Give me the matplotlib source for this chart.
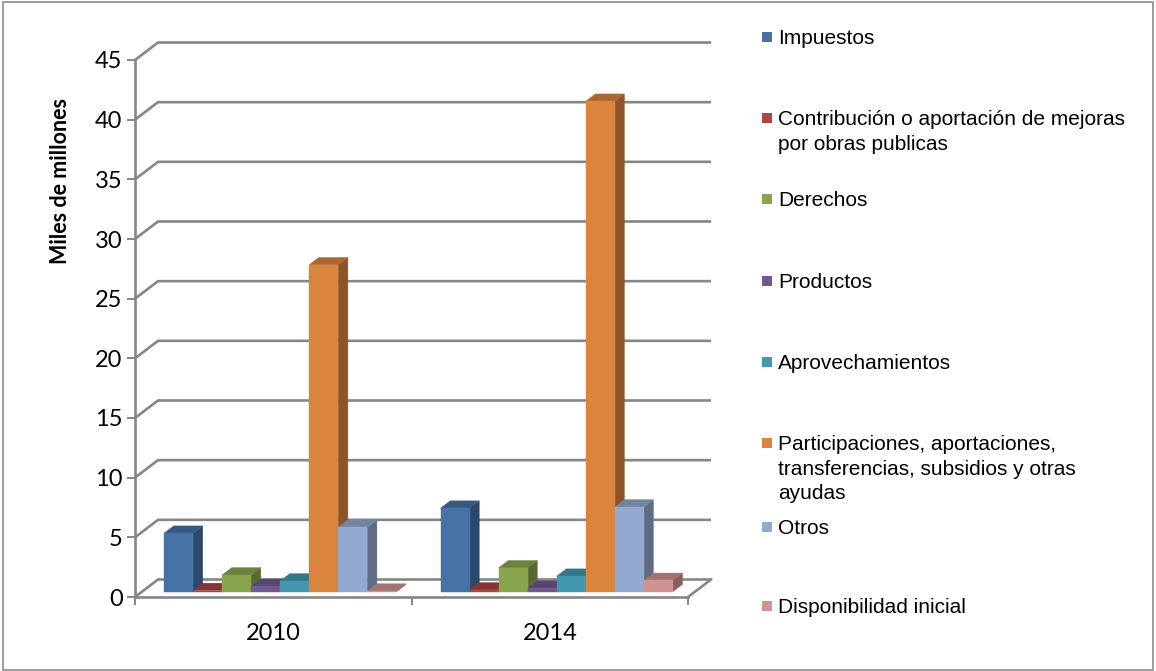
import matplotlib
matplotlib.use("Agg")
import matplotlib.pyplot as plt
from matplotlib.patches import Polygon, Rectangle
import numpy as np
from matplotlib.colors import to_rgb

# ---------------- data ----------------
years = ["2010", "2014"]
series = ["Impuestos",
          "Contribución o aportación de mejoras\npor obras publicas",
          "Derechos",
          "Productos",
          "Aprovechamientos",
          "Participaciones, aportaciones,\ntransferencias, subsidios y otras\nayudas",
          "Otros",
          "Disponibilidad inicial"]
impuestos = [4.9, 7.0]
contribucion = [0.1, 0.15]
derechos = [1.4, 2.0]
productos = [0.45, 0.3]
aprovechamientos = [0.9, 1.3]
participaciones = [27.4, 41.1]
otros = [5.4, 7.1]
disponibilidad = [0.05, 0.95]
values = [impuestos, contribucion, derechos, productos, aprovechamientos,
          participaciones, otros, disponibilidad]
yticks = list(range(0, 50, 5))
ylabel = "Miles de millones"

colors = ["#4572A7", "#AA4643", "#89A54E", "#71588F", "#4198AF",
          "#DB843D", "#93A9CF", "#D19392"]

# ---------------- layout ----------------
W, H = 1156, 671
fig = plt.figure(figsize=(W / 100, H / 100), dpi=100)
fig.patch.set_facecolor("white")

PXX = 276.5           # pixels per category unit
PXY = (597 - 60) / 45  # pixels per value unit
ax_l, ax_r, ax_t, ax_b = 135, 735, 30, 597
ax = fig.add_axes([ax_l / W, (H - ax_b) / H, (ax_r - ax_l) / W, (ax_b - ax_t) / H])
ax.set_xlim(-0.5, -0.5 + (ax_r - ax_l) / PXX)
ax.set_ylim(0, (ax_b - ax_t) / PXY)
ax.patch.set_alpha(0)

DX = 23 / PXX
DY = 17.5 / PXY
grid_c = "#868686"
glw = 1.9

x0, x1 = -0.5, len(years) - 0.5
# gridlines (back wall) with diagonal connectors
for v in yticks:
    ax.plot([x0, x0 + DX, x1 + DX], [v, v + DY, v + DY], color=grid_c, lw=glw,
            zorder=1, solid_capstyle="butt", clip_on=False)
# floor right diagonal
ax.plot([x1, x1 + DX], [0, DY], color=grid_c, lw=glw, zorder=1, clip_on=False)

# spines / ticks
for s in ["top", "right"]:
    ax.spines[s].set_visible(False)
ax.spines["left"].set_bounds(0, 45)
ax.spines["bottom"].set_bounds(x0, x1)
for s in ["left", "bottom"]:
    ax.spines[s].set_color(grid_c)
    ax.spines[s].set_linewidth(glw)
    ax.spines[s].set_zorder(2)
ax.set_yticks(yticks)
ax.set_yticklabels([str(t) for t in yticks])
ax.tick_params(axis="y", direction="out", length=5.5, width=1.4, color=grid_c,
               labelsize=17, pad=3.5)
ax.set_xticks(np.arange(x0, x1 + 0.01, 1.0))
ax.set_xticklabels([])
ax.set_xticks(np.arange(len(years)), minor=True)
ax.set_xticklabels(years, minor=True)
ax.tick_params(axis="x", which="major", direction="out", length=6, width=1.4, color=grid_c)
ax.tick_params(axis="x", which="minor", length=0, labelsize=17, pad=19)
for lab in ax.get_xticklabels(minor=True) + ax.get_yticklabels():
    lab.set_fontfamily("Lato")

# bars
nser = len(series)
w = 0.105
f0, f1 = 0.30, 0.72
def shade(c, f):
    r, g, b = to_rgb(c)
    return (r * f, g * f, b * f)

for j in range(len(years)):
    for i in range(nser):
        v = values[i][j]
        xl = j - nser * w / 2 + i * w + f0 * DX
        yb = f0 * DY
        ddx = (f1 - f0) * DX
        ddy = (f1 - f0) * DY
        c = colors[i]
        front = Polygon([(xl, yb), (xl + w, yb), (xl + w, yb + v), (xl, yb + v)],
                        closed=True, fc=c, ec=c, lw=0.3, zorder=5 + i * 0.01, clip_on=False)
        top = Polygon([(xl, yb + v), (xl + w, yb + v), (xl + w + ddx, yb + v + ddy),
                       (xl + ddx, yb + v + ddy)], closed=True, fc=shade(c, 0.78),
                      ec=shade(c, 0.78), lw=0.3, zorder=4.9 + i * 0.01, clip_on=False)
        side = Polygon([(xl + w, yb), (xl + w + ddx, yb + ddy), (xl + w + ddx, yb + v + ddy),
                        (xl + w, yb + v)], closed=True, fc=shade(c, 0.64),
                       ec=shade(c, 0.64), lw=0.3, zorder=4.9 + i * 0.01, clip_on=False)
        ax.add_patch(side)
        ax.add_patch(top)
        ax.add_patch(front)

# y-axis title
fig.text(61 / W, 1 - 181 / H, ylabel, rotation=90, ha="center", va="center",
         fontsize=15.5, fontweight="bold", family="Lato")

# legend
leg_y = [37, 118, 199, 281, 362, 443, 527, 606]
for lab, c, yc in zip(series, colors, leg_y):
    fig.patches.append(Rectangle(((762) / W, 1 - (yc + 5) / H), 10 / W, 10 / H,
                                 transform=fig.transFigure, fc=c, ec="none"))
    fig.text(778 / W, 1 - (yc - 8) / H, lab, ha="left", va="top", fontsize=15,
             family="Liberation Sans", linespacing=1.38)

# frame
fig.patches.append(Rectangle((2.5 / W, 1.5 / H), 1150.5 / W, 667.5 / H,
                             transform=fig.transFigure, fc="none", ec="#8c8c8c", lw=1.2))

fig.savefig("out.png", dpi=100)
